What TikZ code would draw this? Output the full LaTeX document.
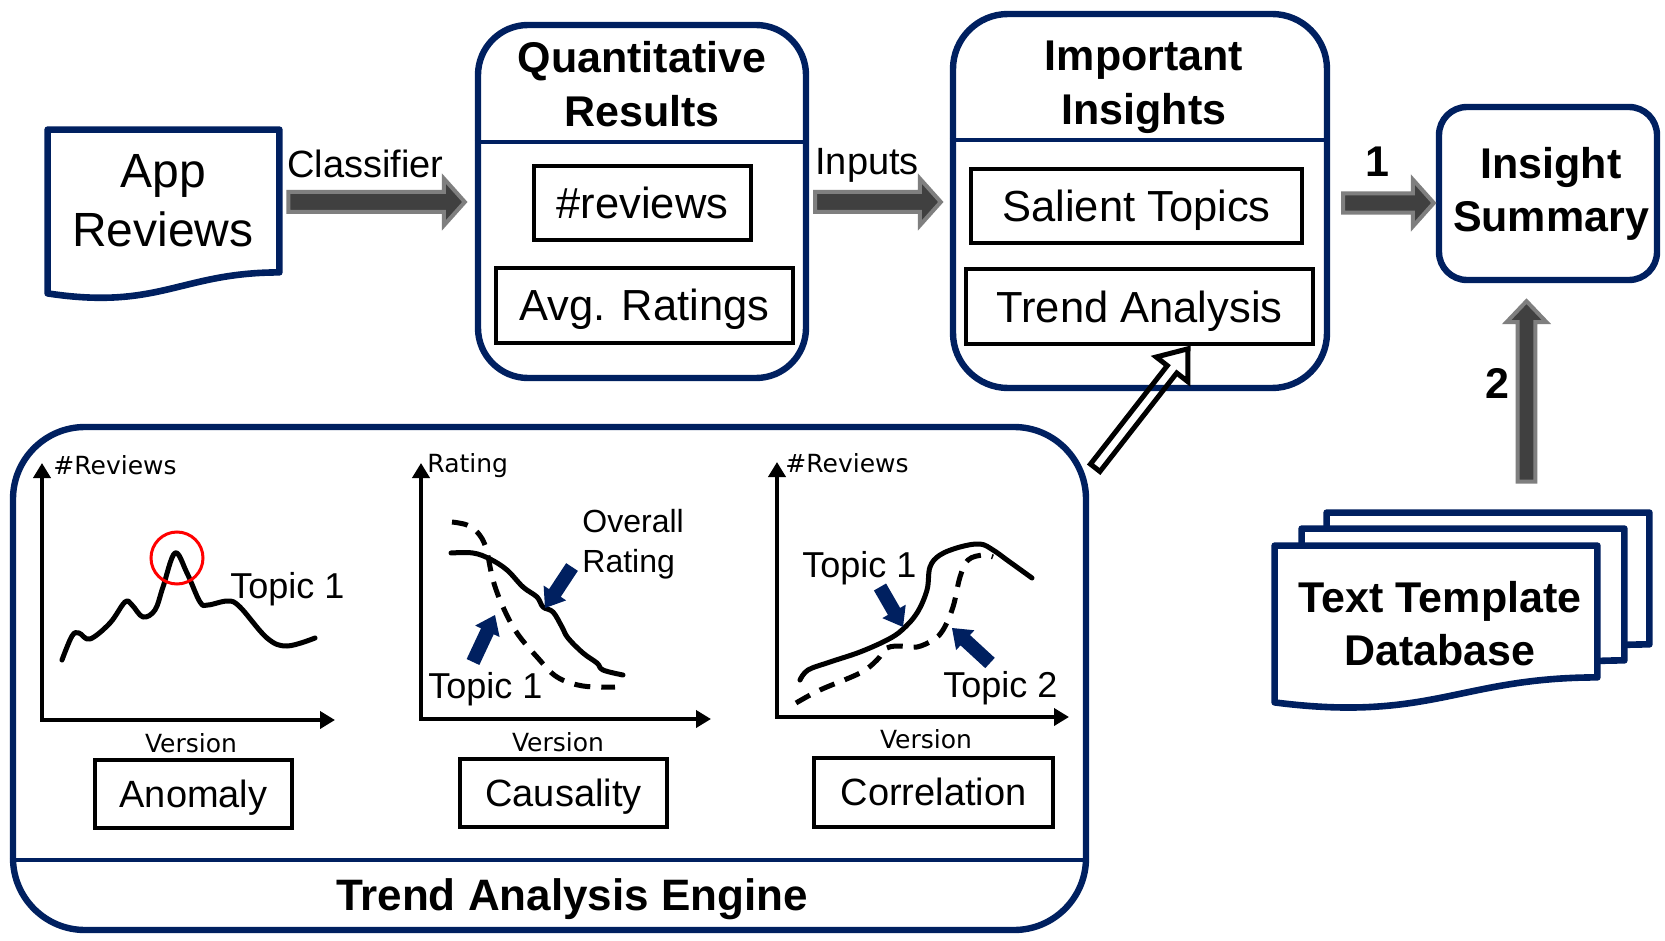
\documentclass[tikz,border=0pt]{standalone}
\usepackage{fontspec}
\setmainfont{Liberation Sans}
\newfontfamily\axfont{DejaVu Sans}
\usetikzlibrary{calc,arrows.meta}
\definecolor{navy}{RGB}{0,32,96}
\definecolor{adark}{RGB}{64,64,64}
\definecolor{agray}{RGB}{127,127,127}
% #1 style, #2 tail, #3 tip, #4 shaft half width, #5 head half width, #6 head length
\newcommand\blockarrow[6]{%
  \coordinate (bacc) at ($(#3)!#6!(#2)$);
  \path[#1] ($(#2)!#4!90:(#3)$) -- ($(bacc)!#4!90:(#3)$) -- ($(bacc)!#5!90:(#3)$) -- (#3)
    -- ($(bacc)!#5!-90:(#3)$) -- ($(bacc)!#4!-90:(#3)$) -- ($(#2)!#4!-90:(#3)$) -- cycle;}
\newcommand\ttddoc[2]{%
  \draw[docline] ($(ttd.north west)+(#1,#2)$) -- ($(ttd.north east)+(#1,#2)$)
    -- ($(ttd.south east)+(#1,#2-25)$)
    .. controls ($(ttd.south east)+(#1-138,#2-25)$) and ($(ttd.south east)+(#1-167,#2+20)$) ..
    ($(ttd.south west)+(#1,#2)$) -- cycle;}
\begin{document}
\begin{tikzpicture}[x=0.5pt,y=-0.5pt,
  txt/.style={anchor=base, inner sep=0pt},
  txtl/.style={anchor=base west, inner sep=0pt},
  rbox/.style={draw=navy, line width=3.2pt, rounded corners=#1, inner sep=0pt},
  ibox/.style={draw=black, line width=1.8pt, inner sep=0pt, text height=15.5pt, text depth=0pt, font=\fontsize{21.75}{26}\selectfont},
  cbox/.style={draw=black, line width=1.8pt, inner sep=0pt, text height=13pt, text depth=0pt, font=\fontsize{19}{23}\selectfont},
  divider/.style={draw=navy, line width=1.7pt},
  docline/.style={draw=navy, line width=3.3pt, line join=round, fill=white},
  garrow/.style={fill=adark, draw=agray, line width=2pt, line join=miter},
  narrow/.style={fill=navy},
  hollow/.style={draw=black, line width=2.5pt, line join=miter},
  axis/.style={line width=2pt, {Triangle[length=7.5pt,width=8.5pt]}-{Triangle[length=7.5pt,width=8.5pt]}},
  curve/.style={line width=2.5pt, line cap=round, line join=round},
  dcurve/.style={line width=2.5pt, dash pattern=on 8pt off 5.5pt},
  ftitle/.style={font=\fontsize{21.5}{26}\selectfont\bfseries},
  fapp/.style={font=\fontsize{24}{29}\selectfont},
  flab/.style={font=\fontsize{19}{23}\selectfont},
  ftopic/.style={font=\fontsize{18}{22}\selectfont},
  fover/.style={font=\fontsize{16}{19}\selectfont},
  fax/.style={font=\axfont\fontsize{12.5}{15}\selectfont}]
\path[fill=white, use as bounding box] (0,0) rectangle (1665,941);

% ---------- App Reviews document ----------
\node[minimum width=115.5pt, minimum height=81.5pt, inner sep=0pt] (app) at (163.5,211.5) {};
\draw[docline] (app.north west) -- (app.north east) -- ($(app.south east)+(0,-21)$)
  .. controls ($(app.south east)+(-99,-21)$) and ($(app.south east)+(-120,17)$) .. (app.south west) -- cycle;
\node[txt, fapp] (app1) at (163,188) {App};
\node[txt, fapp] (app2) at (163,247) {Reviews};

% ---------- Quantitative Results ----------
\node[rbox=25pt, minimum width=164pt, minimum height=176.5pt] (qr) at (642,201.5) {};
\draw[divider] (qr.west |- 0,142) -- (qr.east |- 0,142);
\node[txt, ftitle] (qrt1) at (642,73) {Quantitative};
\node[txt, ftitle] (qrt2) at (642,127) {Results};
\node[ibox, minimum width=108.5pt, minimum height=37pt] (nrev) at (642.5,203) {\#reviews};
\node[ibox, minimum width=148.5pt, minimum height=37.5pt] (avg) at (644.5,305.5) {Avg. Ratings};

% ---------- Important Insights ----------
\node[rbox=27.5pt, minimum width=187pt, minimum height=187pt] (ii) at (1140,201) {};
\draw[divider] (ii.west |- 0,140) -- (ii.east |- 0,140);
\node[txt, ftitle] (iit1) at (1144,71) {Important};
\node[txt, ftitle] (iit2) at (1144,125) {Insights};
\node[ibox, minimum width=165.5pt, minimum height=37pt] (sal) at (1136.5,206) {Salient Topics};
\node[ibox, minimum width=173.5pt, minimum height=37.5pt] (ta) at (1139.5,306.5) {Trend Analysis};

% ---------- Insight Summary ----------
\node[rbox=14pt, minimum width=109pt, minimum height=86.5pt] (is) at (1548,193.5) {};
\node[txt, ftitle] (ist1) at (1551,179) {Insight};
\node[txt, ftitle] (ist2) at (1551,232) {Summary};

% ---------- Text Template Database ----------
\node[minimum width=161pt, minimum height=78pt, inner sep=0pt] (ttd) at (1436,624) {};
\ttddoc{52}{-33}
\ttddoc{27}{-17}
\ttddoc{0}{0}
\node[txt, ftitle] (ttd1) at (1440,612) {Text Template};
\node[txt, ftitle] (ttd2) at (1440,665) {Database};

% ---------- gray block arrows ----------
\coordinate (c1t) at ($(app.east |- 0,202)+(9,0)$);
\coordinate (c1h) at ($(qr.west |- c1t)+(-10,0)$);
\blockarrow{garrow}{c1t}{c1h}{5pt}{11.75pt}{10.5pt}
\node[txtl, flab] (cls) at (287,178) {Classifier};

\coordinate (c2t) at ($(qr.east |- 0,202)+(6,0)$);
\coordinate (c2h) at ($(ii.west |- c2t)+(-9,0)$);
\blockarrow{garrow}{c2t}{c2h}{5pt}{11.75pt}{10.5pt}
\node[txtl, flab] (inp) at (815,175) {Inputs};

\coordinate (c3t) at ($(ii.east |- 0,203)+(13,0)$);
\coordinate (c3h) at ($(is.west |- c3t)+(-2,0)$);
\blockarrow{garrow}{c3t}{c3h}{4.8pt}{11.75pt}{10.5pt}
\node[txt, ftitle] (one) at (1377,177) {1};

\coordinate (c4h) at ($(is.south)+(-21.5,18)$);
\coordinate (c4t) at ($(c4h |- ttd.north)+(0,-64)$);
\blockarrow{garrow}{c4t}{c4h}{4.4pt}{10pt}{10.5pt}
\node[txt, ftitle] (two) at (1497,398) {2};

% ---------- Trend Analysis Engine ----------
\node[rbox=36pt, minimum width=536.5pt, minimum height=251.5pt] (tae) at (549.5,678.5) {};
\draw[divider] (tae.west |- 0,860) -- (tae.east |- 0,860);
\node[txt, font=\fontsize{22}{26}\selectfont\bfseries] (taet) at (572,910) {Trend Analysis Engine};

% chart 1: anomaly
\draw[axis] (42,463) -- (42,720) -- (335,720);
\node[txtl, fax] (ax1y) at (53,474) {\#Reviews};
\node[txt, fax] (ax1x) at (191,752) {Version};
\draw[curve] plot[smooth, tension=0.6] coordinates {(62,660) (72,636) (79,633) (90,639) (110,623) (125,602) (132,605) (143,617) (155,610) (163,587) (175,553) (187,573) (200,602) (208,605) (228,601) (240,607) (267,638) (287,646) (315,638)};
\draw[red, line width=1.5pt] (177,558) circle[radius=26];
\node[txtl, ftopic] (t11) at (230,598) {Topic 1};
\node[cbox, minimum width=98.5pt, minimum height=34pt] (ano) at (193.5,794) {Anomaly};

% chart 2: causality
\draw[axis] (421,463) -- (421,719) -- (711,719);
\node[txtl, fax] (ax2y) at (427,472) {Rating};
\node[txt, fax] (ax2x) at (558,751) {Version};
\draw[curve] plot[smooth, tension=0.6] coordinates {(451,553) (473,553) (490,559) (507,570) (523,587) (537,597) (543,607) (553,612) (562,627) (568,638) (583,653) (597,663) (603,670) (623,675)};
\draw[dcurve] plot[smooth, tension=0.6] coordinates {(452,522) (467,525) (478,533) (486,548) (493,580) (503,607) (517,633) (537,657) (557,677) (583,686) (615,687)};
\blockarrow{narrow}{572,567}{545,608}{3.5pt}{6.75pt}{9pt}
\blockarrow{narrow}{473,662}{495,615}{3.5pt}{6.75pt}{9pt}
\node[txtl, fover] (ov1) at (582,532) {Overall};
\node[txtl, fover] (ov2) at (582,572) {Rating};
\node[txtl, ftopic] (t21) at (428,698) {Topic 1};
\node[cbox, minimum width=103.5pt, minimum height=34pt] (cau) at (563.5,793) {Causality};

% chart 3: correlation
\draw[axis] (777,462) -- (777,717) -- (1069,717);
\node[txtl, fax] (ax3y) at (785,472) {\#Reviews};
\node[txt, fax] (ax3x) at (926,748) {Version};
\draw[curve] plot[smooth, tension=0.6] coordinates {(800,680) (808,670) (830,662) (860,652) (887,640) (902,630) (917,613) (927,590) (930,567) (940,555) (960,547) (980,544) (993,550) (1007,560) (1032,578)};
\draw[dcurve] plot[smooth, tension=0.6] coordinates {(796,703) (820,690) (860,673) (877,660) (887,648) (902,646) (917,647) (933,640) (943,630) (953,607) (960,577) (968,560) (983,555) (993,557)};
\blockarrow{narrow}{880,587}{903,627}{3.5pt}{6.75pt}{9pt}
\blockarrow{narrow}{990,663}{952,628}{3.5pt}{6.75pt}{9pt}
\node[txtl, ftopic] (t31) at (802,577) {Topic 1};
\node[txtl, ftopic] (t32) at (943,697) {Topic 2};
\node[cbox, minimum width=119.5pt, minimum height=34.5pt] (cor) at (933.5,792.5) {Correlation};

% ---------- hollow arrow from engine to Trend Analysis ----------
\coordinate (hat) at ($(tae.north east)+(6,44)$);
\coordinate (hah) at ($(ta.south)+(48.5,3)$);
\blockarrow{hollow}{hat}{hah}{3pt}{10pt}{13pt}
\end{tikzpicture}
\end{document}
